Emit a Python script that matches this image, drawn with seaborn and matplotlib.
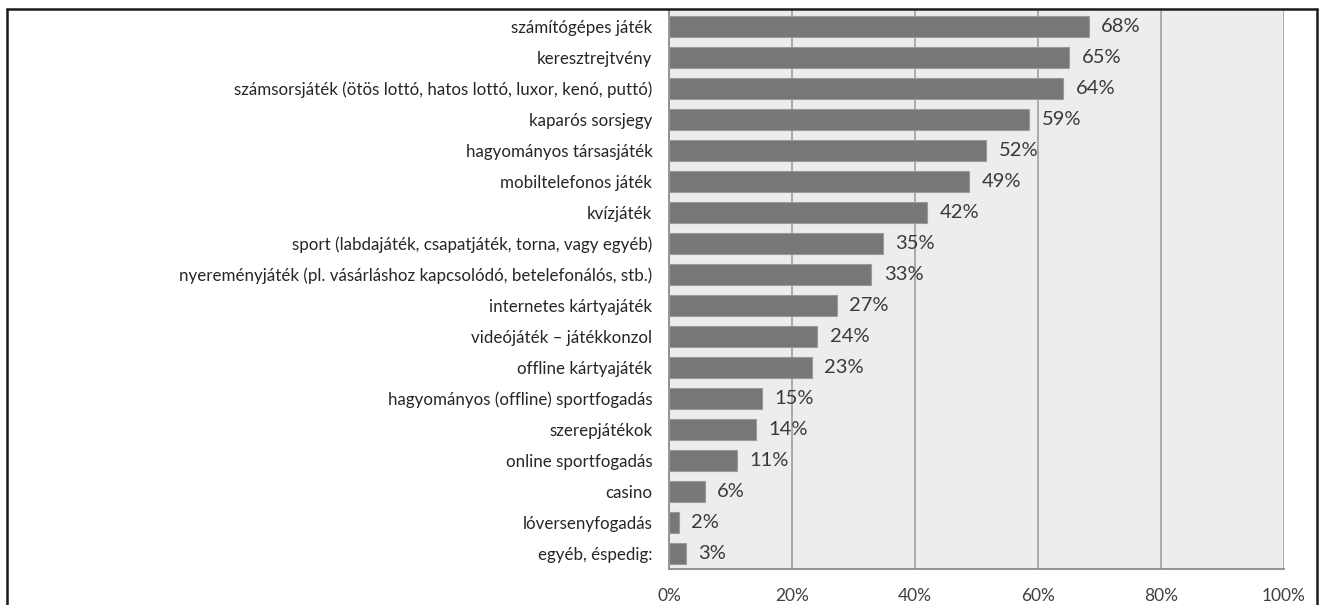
import matplotlib
matplotlib.use("Agg")
import matplotlib.pyplot as plt
import seaborn as sns
import pandas as pd
from matplotlib.lines import Line2D

categories = [
    "számítógépes játék",
    "keresztrejtvény",
    "számsorsjáték (ötös lottó, hatos lottó, luxor, kenó, puttó)",
    "kaparós sorsjegy",
    "hagyományos társasjáték",
    "mobiltelefonos játék",
    "kvízjáték",
    "sport (labdajáték, csapatjáték, torna, vagy egyéb)",
    "nyereményjáték (pl. vásárláshoz kapcsolódó, betelefonálós, stb.)",
    "internetes kártyajáték",
    "videójáték – játékkonzol",
    "offline kártyajáték",
    "hagyományos (offline) sportfogadás",
    "szerepjátékok",
    "online sportfogadás",
    "casino",
    "lóversenyfogadás",
    "egyéb, éspedig:",
]
values = [68.3, 65.1, 64.1, 58.6, 51.6, 48.8, 42.0, 34.8, 32.9, 27.3, 24.1, 23.2,
          15.2, 14.1, 11.0, 5.8, 1.6, 2.8]
value_labels = ["68%", "65%", "64%", "59%", "52%", "49%", "42%", "35%", "33%", "27%",
                "24%", "23%", "15%", "14%", "11%", "6%", "2%", "3%"]
tick_values = [0, 20, 40, 60, 80, 100]
tick_labels = ["0%", "20%", "40%", "60%", "80%", "100%"]

df = pd.DataFrame({"cat": categories, "val": values})

sns.set_theme(style="white")
plt.rcParams["font.family"] = ["Lato", "DejaVu Sans"]

fig = plt.figure(figsize=(13.19, 6.05), dpi=100)
ax = fig.add_axes([669/1319, 1 - 569/605, (1284-669)/1319, (569-11)/605])
ax.set_facecolor("#EDEDED")

sns.barplot(data=df, x="val", y="cat", orient="h", color="#777777", saturation=1,
            width=0.66, edgecolor="#9A9A9A", linewidth=0.8, ax=ax, zorder=3)

ax.set_xlim(0, 100)
ax.set_ylim(len(categories) - 0.5, -0.5)
ax.set_xticks(tick_values)
ax.set_xticklabels(tick_labels)
ax.xaxis.grid(True, color="#A6A6A6", linewidth=1.3, zorder=0)
ax.set_axisbelow(True)
ax.set_xlabel("")
ax.set_ylabel("")

for s in ["top", "right"]:
    ax.spines[s].set_visible(False)
for s in ["left", "bottom"]:
    ax.spines[s].set_color("#8C8C8C")
    ax.spines[s].set_linewidth(1.3)

ax.set_yticks([i - 0.5 for i in range(len(categories) + 1)], minor=True)
ax.tick_params(axis="y", which="major", length=0, pad=12, labelsize=12.2, labelcolor="#262626")
ax.tick_params(axis="y", which="minor", length=5, width=1.2, color="#8C8C8C")
ax.tick_params(axis="x", length=4.5, width=1.2, color="#8C8C8C", labelsize=12.5,
               labelcolor="#404040", pad=9)

for i, (v, lab) in enumerate(zip(values, value_labels)):
    ax.text(v + 2.0, i, lab, va="center", ha="left", fontsize=14.5, color="#3A3A3A")

# figure border (bottom edge cut off)
border_kw = dict(color="#1A1A1A", linewidth=1.8, transform=fig.transFigure)
fig.add_artist(Line2D([7/1319, 7/1319], [0, 1 - 9/605], **border_kw))
fig.add_artist(Line2D([1317/1319, 1317/1319], [0, 1 - 9/605], **border_kw))
fig.add_artist(Line2D([7/1319, 1317/1319], [1 - 9/605, 1 - 9/605], **border_kw))

fig.savefig("out.png", dpi=100)
